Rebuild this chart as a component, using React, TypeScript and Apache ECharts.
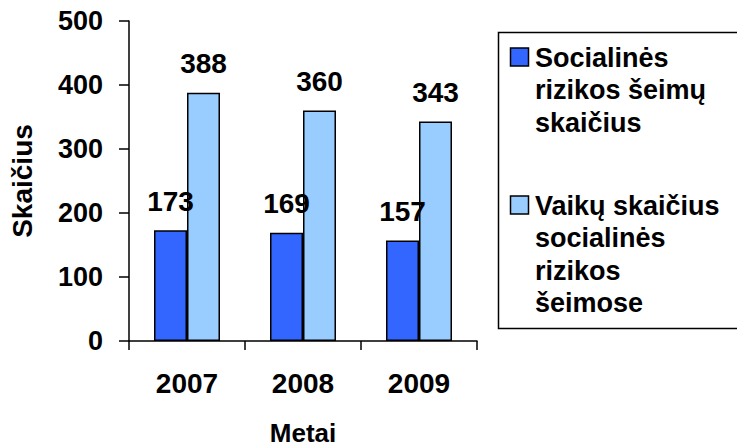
import React, { useEffect, useRef } from "react";
import * as echarts from "echarts";

const categories = ["2007", "2008", "2009"];
const familiesValues = [173, 169, 157];
const childrenValues = [388, 360, 343];
const seriesNames = ["Socialinės rizikos šeimų skaičius", "Vaikų skaičius socialinės rizikos šeimose"];
const legendLines = [
  ["Socialinės", "rizikos šeimų", "skaičius"],
  ["Vaikų skaičius", "socialinės", "rizikos", "šeimose"],
];
const colors = ["#3366FF", "#99CCFF"];

const FONT = "Arial, 'Liberation Sans', sans-serif";

export default function App() {
  const ref = useRef<HTMLDivElement>(null);
  useEffect(() => {
    if (!ref.current) return;
    const chart = echarts.init(ref.current, undefined, { renderer: "svg" });
    const labelStyle = {
      show: true,
      position: "top" as const,
      distance: 15,
      fontFamily: FONT,
      fontWeight: "bold" as const,
      fontSize: 28,
      color: "#000",
    };
    const legendGraphics: any[] = [];
    const lineH = 32.5;
    const blockStarts = [57.5, 205.5];
    legendLines.forEach((lines, i) => {
      legendGraphics.push({
        type: "rect",
        shape: { x: 510.5, y: blockStarts[i] - 9.5, width: 18, height: 18 },
        style: { fill: colors[i], stroke: "#000", lineWidth: 1.5 },
      });
      lines.forEach((ln, j) => {
        legendGraphics.push({
          type: "text",
          x: 535,
          y: blockStarts[i] + j * lineH,
          style: {
            text: ln,
            fontFamily: FONT,
            fontWeight: "bold",
            fontSize: 27,
            fill: "#000",
            verticalAlign: "middle",
            align: "left",
          },
        });
      });
    });
    const axisFont = { fontFamily: FONT, fontWeight: "bold" as const, color: "#000" };
    chart.setOption({
      animation: false,
      backgroundColor: "#fff",
      grid: { left: 129, right: 260, top: 21, bottom: 107, containLabel: false, outerBoundsMode: "none" },
      xAxis: {
        type: "category",
        data: categories,
        axisLine: { lineStyle: { color: "#000", width: 1.5 } },
        axisTick: { show: true, length: 9, lineStyle: { color: "#000", width: 1.5 } },
        axisLabel: { margin: 28, fontSize: 28, ...axisFont },
        name: "Metai",
        nameLocation: "middle",
        nameGap: 79,
        nameTextStyle: { fontSize: 26, ...axisFont },
      },
      yAxis: {
        type: "value",
        min: 0,
        max: 500,
        interval: 100,
        splitLine: { show: false },
        axisLine: { show: true, lineStyle: { color: "#000", width: 1.5 } },
        axisTick: { show: true, length: 10, lineStyle: { color: "#000", width: 1.5 } },
        axisLabel: { margin: 26, fontSize: 27, ...axisFont },
        name: "Skaičius",
        nameLocation: "middle",
        nameGap: 93,
        nameTextStyle: { fontSize: 28, ...axisFont },
      },
      series: [
        {
          name: seriesNames[0],
          type: "bar",
          data: familiesValues,
          barWidth: 33,
          barGap: "0%",
          itemStyle: { color: colors[0], borderColor: "#000", borderWidth: 1.5 },
          label: labelStyle,
        },
        {
          name: seriesNames[1],
          type: "bar",
          data: childrenValues,
          barWidth: 33,
          barGap: "0%",
          itemStyle: { color: colors[1], borderColor: "#000", borderWidth: 1.5 },
          label: labelStyle,
        },
      ],
      graphic: [
        {
          type: "rect",
          shape: { x: 498.5, y: 32.5, width: 245, height: 296 },
          style: { fill: "none", stroke: "#000", lineWidth: 1.5 },
        },
        ...legendGraphics,
      ],
    });
    return () => chart.dispose();
  }, []);
  return <div ref={ref} style={{ width: 737, height: 448, position: "absolute", left: 0, top: 0 }} />;
}
